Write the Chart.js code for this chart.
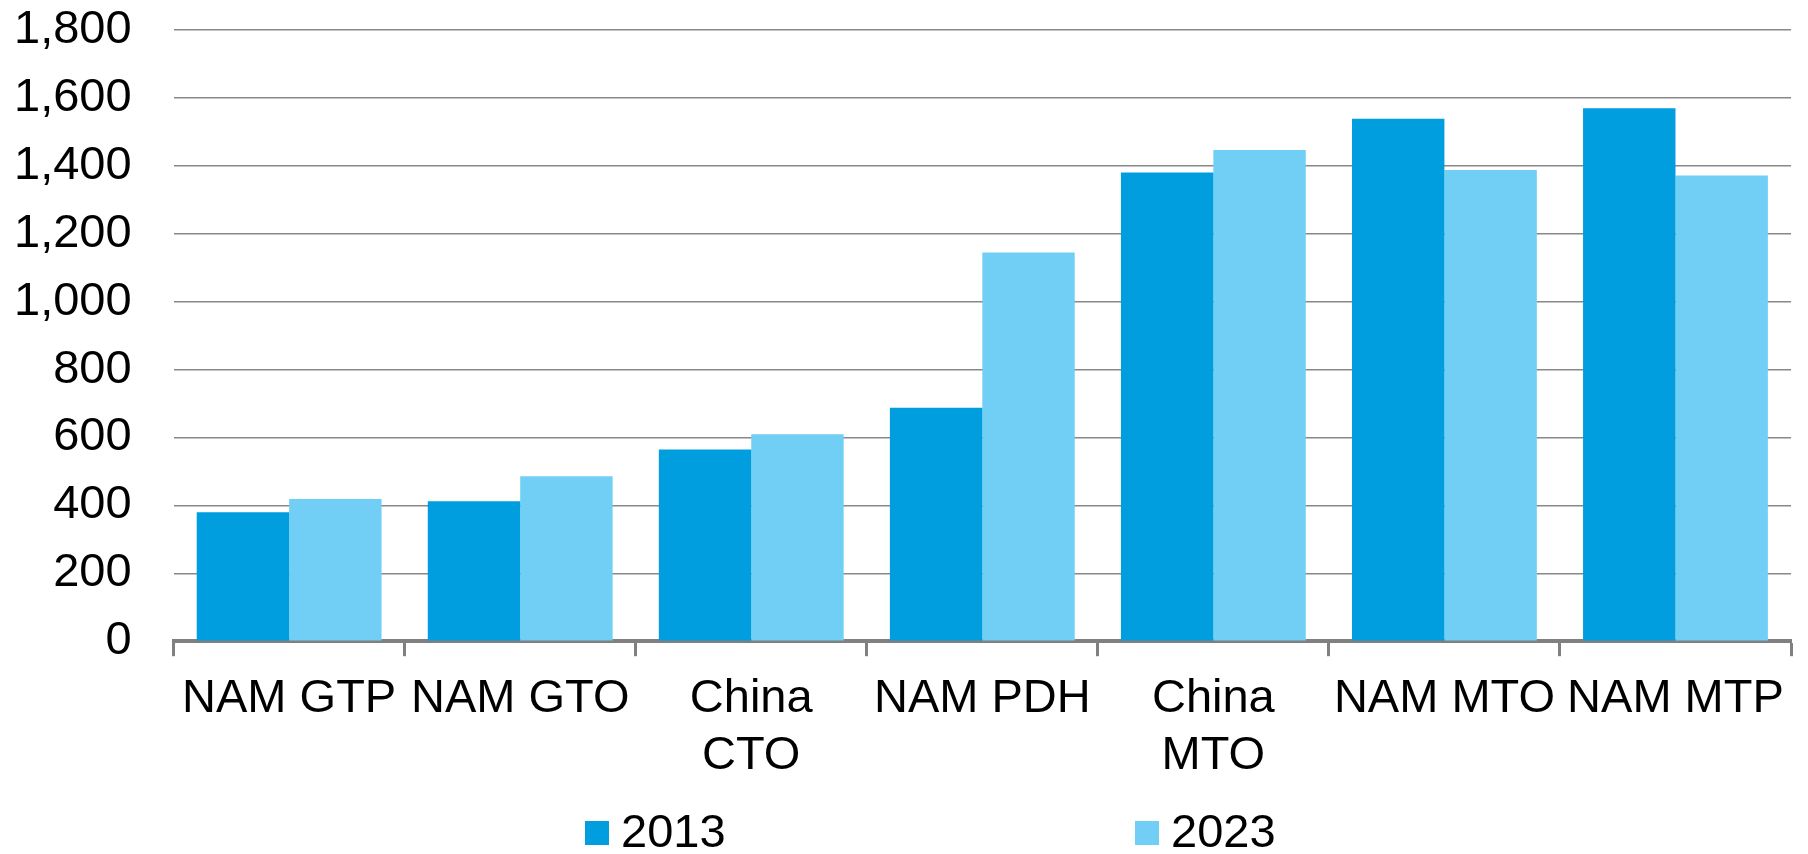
<!DOCTYPE html>
<html>
<head>
<meta charset="utf-8">
<script src="https://cdn.jsdelivr.net/npm/chart.js@4"></script>
<style>
    html, body { margin: 0; padding: 0; background: #ffffff; }
    #wrap { width: 1808px; height: 854px; position: relative; }
</style>
</head>
<body>
<div id="wrap"><canvas id="chart"></canvas></div>
<script>
// ===== DATA =====
const categories = ['NAM GTP', 'NAM GTO', ['China', 'CTO'], 'NAM PDH', ['China', 'MTO'], 'NAM MTO', 'NAM MTP'];
const values2013 = [380, 412, 565, 688, 1381, 1539, 1570];
const values2023 = [419, 486, 610, 1145, 1447, 1388, 1372];
const yTicks = [0, 200, 400, 600, 800, 1000, 1200, 1400, 1600, 1800];

const FONT = "'Liberation Sans', Arial, sans-serif";
const FONT_SIZE = 47;

// legend drawn spread out across the bottom, like the original
const LEGEND_X = [585, 1135];
const LEGEND_Y = 833;
const LEGEND_BOX = 24;

const spreadLegend = {
    id: 'spreadLegend',
    afterDraw(chart) {
        const ctx = chart.ctx;
        ctx.save();
        ctx.font = FONT_SIZE + 'px ' + FONT;
        ctx.textBaseline = 'middle';
        ctx.textAlign = 'left';
        chart.data.datasets.forEach((ds, i) => {
            const x = LEGEND_X[i];
            ctx.fillStyle = ds.backgroundColor;
            ctx.fillRect(x, LEGEND_Y - LEGEND_BOX / 2, LEGEND_BOX, LEGEND_BOX);
            ctx.fillStyle = '#000000';
            ctx.fillText(ds.label, x + LEGEND_BOX + 12, LEGEND_Y + 1);
        });
        ctx.restore();
    }
};

// ===== CHART =====
Chart.defaults.font.family = FONT;
Chart.defaults.font.size = FONT_SIZE;
Chart.defaults.color = '#000000';

const chart = new Chart(document.getElementById('chart'), {
    type: 'bar',
    data: {
        labels: categories,
        datasets: [
            { label: '2013', data: values2013, backgroundColor: '#009EDE' },
            { label: '2023', data: values2023, backgroundColor: '#71CFF5' }
        ]
    },
    options: {
        responsive: true,
        maintainAspectRatio: false,
        animation: false,
        layout: { padding: { left: 12, right: 17, top: 0, bottom: 55 } },
        datasets: {
            bar: { categoryPercentage: 0.8, barPercentage: 1.0, borderWidth: 0 }
        },
        scales: {
            x: {
                grid: {
                    offset: true,
                    drawOnChartArea: false,
                    drawTicks: true,
                    tickLength: 15,
                    tickWidth: 3,
                    tickColor: '#808080'
                },
                border: { display: true, color: '#808080', width: 4 },
                ticks: {
                    padding: 15,
                    maxRotation: 0,
                    autoSkip: false,
                    font: { size: FONT_SIZE, lineHeight: 1.2 }
                }
            },
            y: {
                min: 0,
                max: 1800,
                afterBuildTicks: (axis) => {
                    axis.ticks = yTicks.map(v => ({ value: v }));
                },
                // invisible tick marks give the gap between labels and plot
                grid: { color: '#888888', lineWidth: 1.5, drawTicks: true, tickLength: 40, tickColor: 'rgba(0,0,0,0)' },
                border: { display: false },
                ticks: {
                    padding: 2,
                    callback: (v) => v.toLocaleString('en-US')
                }
            }
        },
        plugins: {
            legend: { display: false },
            tooltip: { enabled: false }
        }
    },
    plugins: [spreadLegend]
});
</script>
</body>
</html>
